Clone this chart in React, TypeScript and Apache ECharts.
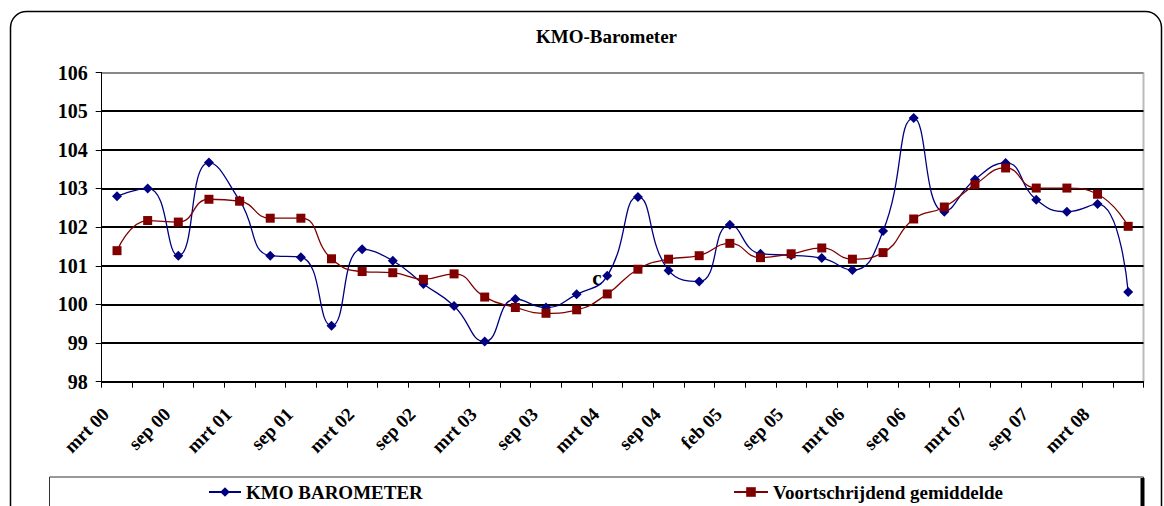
import React, { useEffect, useRef } from "react";
import * as echarts from "echarts";

const categories = [
  "mrt 00", "jun 00", "sep 00", "dec 00",
  "mrt 01", "jun 01", "sep 01", "dec 01",
  "mrt 02", "jun 02", "sep 02", "dec 02",
  "mrt 03", "jun 03", "sep 03", "dec 03",
  "mrt 04", "jun 04", "sep 04", "dec 04",
  "feb 05", "jun 05", "sep 05", "dec 05",
  "mrt 06", "jun 06", "sep 06", "dec 06",
  "mrt 07", "jun 07", "sep 07", "dec 07",
  "mrt 08", "jun 08",
];

const kmoBarometer = [
  102.8, 103.0, 101.26, 103.67, 102.69, 101.26, 101.22, 99.45, 101.43, 101.13,
  100.53, 99.96, 99.04, 100.14, 99.92, 100.26, 100.74, 102.78, 100.88, 100.59,
  102.06, 101.31, 101.27, 101.2, 100.89, 101.9, 104.82, 102.4, 103.23, 103.66,
  102.71, 102.4, 102.6, 100.32,
];

const movingAverage = [
  101.39, 102.17, 102.13, 102.72, 102.67, 102.23, 102.23, 101.18, 100.85, 100.82,
  100.65, 100.79, 100.19, 99.92, 99.77, 99.86, 100.27, 100.91, 101.17, 101.26,
  101.58, 101.21, 101.31, 101.46, 101.17, 101.34, 102.21, 102.52, 103.1, 103.53,
  103.01, 103.01, 102.85, 102.02,
];

const seriesNames = ["KMO BAROMETER", "Voortschrijdend gemiddelde"];
const yMin = 98;
const yMax = 106;
const yInterval = 1;

const FONT = "Liberation Serif";

export default function App() {
  const ref = useRef<HTMLDivElement>(null);

  useEffect(() => {
    if (!ref.current) return;
    const chart = echarts.init(ref.current, null, { renderer: "svg" });
    const gridColors = ["#000", "#000", "#000", "#000", "#000", "#000", "#000", "#000", "#888"];
    chart.setOption({
      animation: false,
      backgroundColor: "#fff",
      textStyle: { fontFamily: FONT },
      title: {
        text: "KMO-Barometer",
        left: 531,
        top: 22,
        textStyle: { fontFamily: FONT, fontSize: 19, fontWeight: "bold", color: "#000" },
      },
      grid: { left: 101.7, right: 20.5, top: 72.5, bottom: 124.3, containLabel: false },
      legend: [
        {
          data: [seriesNames[0]],
          left: 203,
          top: 477,
          itemWidth: 32,
          itemHeight: 12,
          textStyle: { fontFamily: FONT, fontSize: 19, fontWeight: "bold", color: "#000", lineHeight: 20 },
        },
        {
          data: [seriesNames[1]],
          left: 728,
          top: 477,
          itemWidth: 34,
          itemHeight: 12,
          textStyle: { fontFamily: FONT, fontSize: 19, fontWeight: "bold", color: "#000", lineHeight: 20 },
        },
      ],
      xAxis: {
        type: "category",
        data: categories,
        boundaryGap: true,
        axisLine: { show: true, lineStyle: { color: "#000", width: 1 } },
        axisTick: { show: true, length: 6, lineStyle: { color: "#000" }, interval: 0 },
        axisLabel: {
          interval: 1,
          rotate: 45,
          margin: 18,
          padding: [0, 16, 0, 0],
          fontFamily: FONT,
          fontSize: 19,
          fontWeight: "bold",
          color: "#000",
        },
        splitLine: { show: false },
      },
      yAxis: {
        type: "value",
        min: yMin,
        max: yMax,
        interval: yInterval,
        axisLine: { show: true, lineStyle: { color: "#000", width: 1 } },
        axisTick: { show: true, length: 6, lineStyle: { color: "#000" } },
        axisLabel: {
          margin: 14,
          fontFamily: FONT,
          fontSize: 20,
          fontWeight: "bold",
          color: "#000",
        },
        splitLine: { show: true, lineStyle: { color: gridColors, width: 2 } },
      },
      series: [
        {
          name: seriesNames[0],
          type: "line",
          data: kmoBarometer,
          smooth: 0.5,
          symbol: "diamond",
          symbolSize: 10,
          lineStyle: { color: "#000080", width: 1.3 },
          itemStyle: { color: "#000080" },
        },
        {
          name: seriesNames[1],
          type: "line",
          data: movingAverage,
          smooth: 0.5,
          symbol: "rect",
          symbolSize: 9,
          lineStyle: { color: "#800000", width: 1.3 },
          itemStyle: { color: "#800000" },
        },
      ],
      graphic: [
        {
          type: "rect",
          shape: { x: 10.5, y: 11.5, width: 1151, height: 530, r: 16 },
          style: { fill: "none", stroke: "#000", lineWidth: 1.5 },
          z: -1,
        },
        {
          type: "line",
          shape: { x1: 1143.5, y1: 72.5, x2: 1143.5, y2: 381.7 },
          style: { stroke: "#bbb", lineWidth: 2 },
        },
        {
          type: "rect",
          shape: { x: 49.5, y: 477, width: 1094, height: 40 },
          style: { fill: "none", stroke: "#333", lineWidth: 1 },
        },
        {
          type: "line",
          shape: { x1: 1142.5, y1: 478, x2: 1142.5, y2: 510 },
          style: { stroke: "#000", lineWidth: 4 },
        },
        {
          type: "text",
          x: 597,
          y: 278,
          style: {
            text: "c",
            font: `bold 21px ${FONT}`,
            fill: "#000",
            textAlign: "center",
            textVerticalAlign: "middle",
          },
        },
      ],
    });
    return () => chart.dispose();
  }, []);

  return (
    <div
      ref={ref}
      style={{ position: "absolute", left: 0, top: 0, width: 1164, height: 506 }}
    />
  );
}
